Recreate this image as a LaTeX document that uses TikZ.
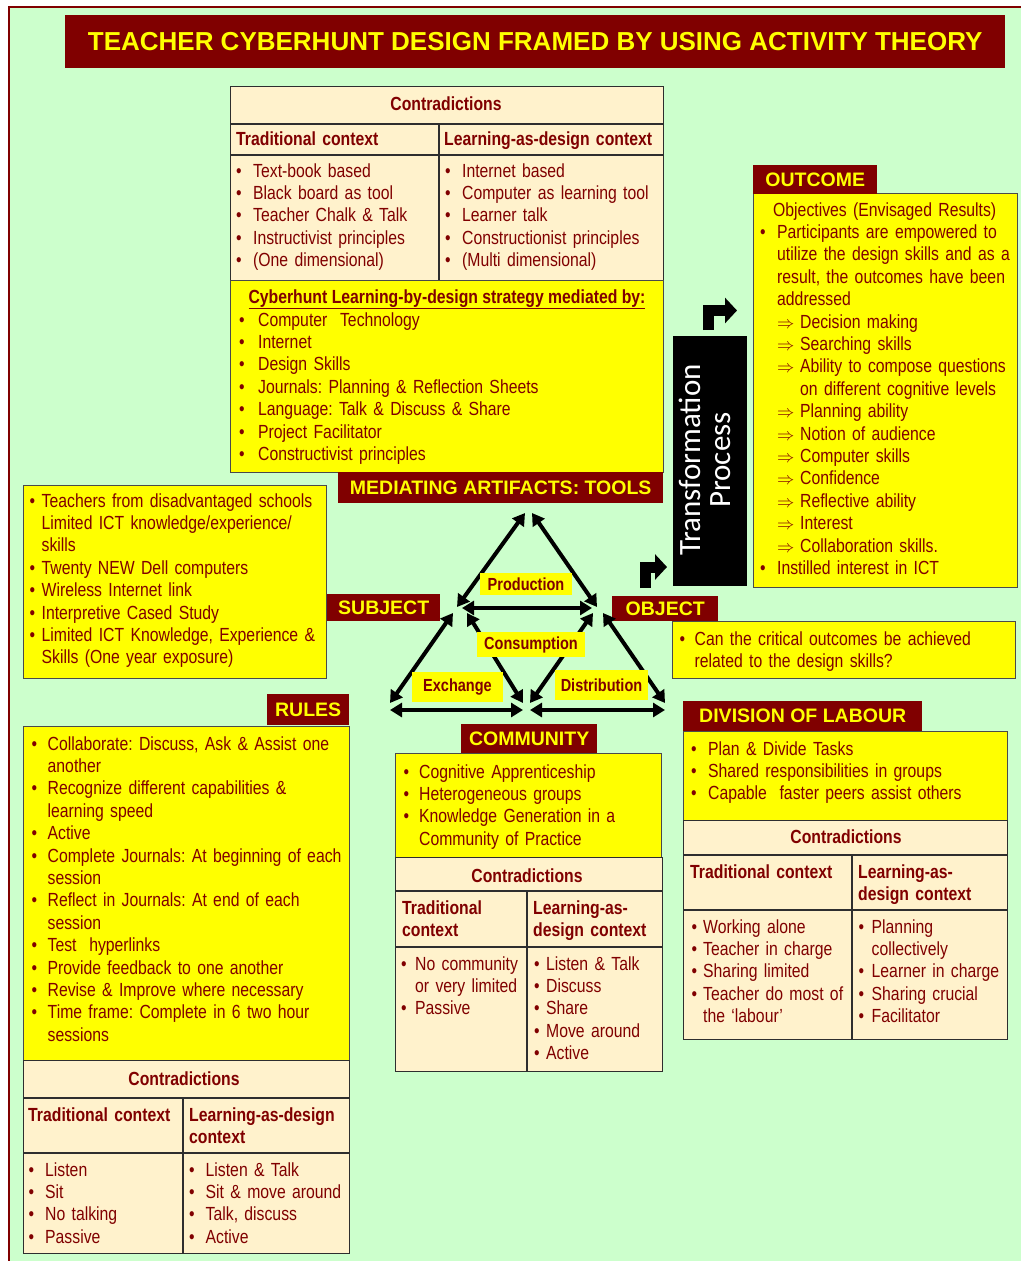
\documentclass[tikz,border=0pt]{standalone}
\usepackage{fontspec}
\setmainfont{Liberation Sans}
\newfontfamily\nar[FakeStretch=0.83]{Liberation Sans}
\newfontfamily\carl{Carlito}
\usetikzlibrary{arrows.meta}
\definecolor{bg}{HTML}{CCFFCC}
\definecolor{mar}{HTML}{800000}
\definecolor{yel}{HTML}{FFFF00}
\definecolor{crm}{HTML}{FFF2CC}
\definecolor{bdr}{HTML}{4A4A4A}
\definecolor{tbl}{HTML}{2E2E2E}
\frenchspacing
\newcommand\B[2]{\makebox[#1pt][l]{\textbullet}#2}
\newcommand\C[2]{\hspace*{#1pt}#2}
\newcommand\RR[2]{\hspace*{#1pt}\makebox[23pt][l]{\fontsize{16}{16}\selectfont$\Rightarrow$}#2}
\begin{document}
\begin{tikzpicture}[x=1pt,y=-1pt,
  txt/.style={anchor=base west, inner sep=0pt, text width=330pt, align=left, text=mar, font=\nar\fontsize{19}{22.4}\selectfont},
  hd/.style={anchor=base, inner sep=0pt, text=mar, font=\nar\bfseries\fontsize{19}{22.4}\selectfont},
  hdl/.style={txt, font=\nar\bfseries\fontsize{19}{22.4}\selectfont},
  lab/.style={fill=mar, text=yel, inner sep=0pt, anchor=north west, font=\bfseries\fontsize{19.5}{20}\selectfont},
  ybox/.style={fill=yel, draw=bdr, line width=0.9pt, inner sep=0pt, anchor=north west},
  cbox/.style={fill=crm, draw=tbl, line width=1.3pt, inner sep=0pt, anchor=north west},
  grid/.style={draw=tbl, line width=1.3pt},
  tri/.style={line width=4pt, {Triangle[length=12pt,width=14pt]}-{Triangle[length=12pt,width=14pt]}},
  elbow/.style={line width=11pt, line join=miter, -{Triangle[length=12pt,width=25pt]}},
  tlab/.style={fill=yel, text=mar, inner sep=0pt, font=\nar\bfseries\fontsize{17.5}{18}\selectfont}
]
\useasboundingbox (0,0) rectangle (1021,1261);
\fill[white] (0,0) rectangle (1021,1261);
\fill[bg] (9,7) rectangle (1021,1261);
\draw[mar, line width=2.5pt] (9,1261) -- (9,7) -- (1021,7);

% title
\node[fill=mar, text=yel, inner sep=0pt, anchor=north west, minimum width=940pt, minimum height=53pt,
  font=\bfseries\fontsize{26}{26}\selectfont] (title) at (65,15) {TEACHER CYBERHUNT DESIGN FRAMED BY USING ACTIVITY THEORY};

% top contradictions table
\node[cbox, minimum width=433pt, minimum height=194pt] (tc) at (230,86) {};
\draw[grid] (230,124) -- (663,124) (230,155) -- (663,155) (439,124) -- (439,280);
\node[hd] (tch) at (446,110) {Contradictions};
\node[hdl] (tct) at (236,145) {Traditional context};
\node[hdl] (tcl) at (444,145) {Learning-as-design context};
\node[txt] (tcb1) at (236,177) {\B{17}{Text-book based}\\\B{17}{Black board as tool}\\\B{17}{Teacher Chalk \& Talk}\\\B{17}{Instructivist principles}\\\B{17}{(One dimensional)}};
\node[txt] (tcb2) at (445,177) {\B{17}{Internet based}\\\B{17}{Computer as learning tool}\\\B{17}{Learner talk}\\\B{17}{Constructionist principles}\\\B{17}{(Multi dimensional)}};

% cyberhunt tools box
\node[ybox, minimum width=433pt, minimum height=192pt] (cy) at (230,280) {};
\node[hd] (cyh) at (447,303) {\underline{Cyberhunt Learning-by-design strategy mediated by:}};
\node[txt] (cyb) at (239,326) {\B{19}{Computer\ \ Technology}\\\B{19}{Internet}\\\B{19}{Design Skills}\\\B{19}{Journals: Planning \& Reflection Sheets}\\\B{19}{Language: Talk \& Discuss \& Share}\\\B{19}{Project Facilitator}\\\B{19}{Constructivist principles}};
\node[lab, minimum width=325pt, minimum height=31pt] (med) at (338,472) {MEDIATING ARTIFACTS: TOOLS};

% outcome
\node[ybox, minimum width=264pt, minimum height=394pt] (outbox) at (753,193) {};
\node[lab, minimum width=124pt, minimum height=29pt] (outlab) at (753,165) {OUTCOME};
\node[txt] (outtxt) at (760,216) {\C{13}{Objectives (Envisaged Results)}\\
\B{17}{Participants are empowered to}\\
\C{17}{utilize the design skills and as a}\\
\C{17}{result, the outcomes have been}\\
\C{17}{addressed}\\
\RR{17}{Decision making}\\
\RR{17}{Searching skills}\\
\RR{17}{\makebox[211pt][s]{Ability to compose questions}}\\
\C{40}{on different cognitive levels}\\
\RR{17}{Planning ability}\\
\RR{17}{Notion of audience}\\
\RR{17}{Computer skills}\\
\RR{17}{Confidence}\\
\RR{17}{Reflective ability}\\
\RR{17}{Interest}\\
\RR{17}{Collaboration skills.}\\
\B{17}{Instilled interest in ICT}};

% transformation process
\node[fill=black, inner sep=0pt, anchor=north west, minimum width=74pt, minimum height=250pt] (tpbox) at (673,336) {};
\node[rotate=90, text=white, align=center, inner sep=0pt, font=\carl\fontsize{31}{30}\selectfont] (tptxt) at (705,460) {Transformation\\Process};
\coordinate (e1s) at (708.5,330);
\coordinate (e1t) at (737,310.5);
\draw[elbow] (e1s) |- (e1t);
\coordinate (e2s) at (645,588);
\coordinate (e2t) at (667,567);
\draw[elbow] (e2s) |- (e2t);

% subject
\node[ybox, minimum width=303pt, minimum height=193pt] (subbox) at (23,485) {};
\node[txt] (subtxt) at (29.5,507) {\B{12}{Teachers from disadvantaged schools}\\\C{12}{Limited ICT knowledge/experience/}\\\C{12}{skills}\\\B{12}{Twenty NEW Dell computers}\\\B{12}{Wireless Internet link}\\\B{12}{Interpretive Cased Study}\\\B{12}{Limited ICT Knowledge, Experience \&}\\\C{12}{Skills (One year exposure)}};
\node[lab, minimum width=113pt, minimum height=27pt] (sublab) at (327,594) {SUBJECT};

% object
\node[ybox, minimum width=343pt, minimum height=57pt] (objbox) at (672,621) {};
\node[lab, minimum width=106pt, minimum height=25pt] (objlab) at (612,596) {OBJECT};
\node[txt] (objtxt) at (679.5,645) {\B{15}{Can the critical outcomes be achieved}\\\C{15}{related to the design skills?}};

% rules
\node[lab, minimum width=82pt, minimum height=31pt] (rullab) at (267,694) {RULES};
\node[ybox, minimum width=326pt, minimum height=334pt] (rulbox) at (23,726) {};
\node[txt] (rultxt) at (31.5,750) {\B{16}{Collaborate: Discuss, Ask \& Assist one}\\\C{16}{another}\\\B{16}{Recognize different capabilities \&}\\\C{16}{learning speed}\\\B{16}{Active}\\\B{16}{Complete Journals: At beginning of each}\\\C{16}{session}\\\B{16}{Reflect in Journals: At end of each}\\\C{16}{session}\\\B{16}{Test\ \ hyperlinks}\\\B{16}{Provide feedback to one another}\\\B{16}{Revise \& Improve where necessary}\\\B{16}{Time frame: Complete in 6 two hour}\\\C{16}{sessions}};
\node[cbox, minimum width=326pt, minimum height=193pt] (rultab) at (23,1060) {};
\draw[grid] (23,1098) -- (349,1098) (23,1153) -- (349,1153) (183,1098) -- (183,1253);
\node[hd] (rulh) at (184,1085) {Contradictions};
\node[hdl] (rult) at (28,1121) {Traditional context};
\node[hdl] (rull) at (189,1121) {Learning-as-design\\context};
\node[txt] (rulb1) at (28.5,1176) {\B{16.5}{Listen}\\\B{16.5}{Sit}\\\B{16.5}{No talking}\\\B{16.5}{Passive}};
\node[txt] (rulb2) at (189,1176) {\B{16.5}{Listen \& Talk}\\\B{16.5}{Sit \& move around}\\\B{16.5}{Talk, discuss}\\\B{16.5}{Active}};

% community
\node[lab, minimum width=136pt, minimum height=29pt] (comlab) at (461,724) {COMMUNITY};
\node[ybox, minimum width=266pt, minimum height=104pt] (combox) at (395,753) {};
\node[txt] (comtxt) at (403.5,778) {\B{15.5}{Cognitive Apprenticeship}\\\B{15.5}{Heterogeneous groups}\\\B{15.5}{Knowledge Generation in a}\\\C{15.5}{Community of Practice}};
\node[cbox, minimum width=267pt, minimum height=214pt] (comtab) at (395,857) {};
\draw[grid] (395,891) -- (662,891) (395,947) -- (662,947) (527,891) -- (527,1071);
\node[hd] (comh) at (527,882) {Contradictions};
\node[hdl] (comt) at (402,914) {Traditional\\context};
\node[hdl] (coml) at (533,914) {Learning-as-\\design context};
\node[txt] (comb1) at (401,970) {\B{14}{No community}\\\C{14}{or very limited}\\\B{14}{Passive}};
\node[txt] (comb2) at (534,970) {\B{12}{Listen \& Talk}\\\B{12}{Discuss}\\\B{12}{Share}\\\B{12}{Move around}\\\B{12}{Active}};

% division of labour
\node[ybox, minimum width=324pt, minimum height=89pt] (divbox) at (683,731) {};
\node[lab, minimum width=239pt, minimum height=30pt] (divlab) at (683,701) {DIVISION OF LABOUR};
\node[txt] (divtxt) at (691,755) {\B{17}{Plan \& Divide Tasks}\\\B{17}{Shared responsibilities in groups}\\\B{17}{Capable\ \ faster peers assist others}};
\node[cbox, minimum width=324pt, minimum height=219pt] (divtab) at (683,820) {};
\draw[grid] (683,855) -- (1007,855) (683,910) -- (1007,910) (852,855) -- (852,1039);
\node[hd] (divh) at (846,843) {Contradictions};
\node[hdl] (divt) at (690,878) {Traditional context};
\node[hdl] (divl) at (858,878) {Learning-as-\\design context};
\node[txt] (divb1) at (691.5,933) {\B{11.5}{Working alone}\\\B{11.5}{Teacher in charge}\\\B{11.5}{Sharing limited}\\\B{11.5}{Teacher do most of}\\\C{11.5}{the ‘labour’}};
\node[txt] (divb2) at (858.5,933) {\B{13}{Planning}\\\C{13}{collectively}\\\B{13}{Learner in charge}\\\B{13}{Sharing crucial}\\\B{13}{Facilitator}};

% activity triangle
\coordinate (tA1) at (525,513);
\coordinate (tS1) at (457,607);
\coordinate (tA2) at (532,513);
\coordinate (tO1) at (597,607);
\coordinate (tS2) at (462,608);
\coordinate (tO2) at (592,608);
\coordinate (tS3) at (453,613);
\coordinate (tL1) at (390,703);
\coordinate (tS4) at (467,613);
\coordinate (tM1) at (523,703);
\coordinate (tO3) at (593,613);
\coordinate (tM2) at (530,703);
\coordinate (tO4) at (603,613);
\coordinate (tR1) at (665,703);
\coordinate (tL2) at (390,710);
\coordinate (tM3) at (523,710);
\coordinate (tM4) at (530,710);
\coordinate (tR2) at (665,710);
\draw[tri] (tA1) -- (tS1);
\draw[tri] (tA2) -- (tO1);
\draw[tri] (tS2) -- (tO2);
\draw[tri] (tS3) -- (tL1);
\draw[tri] (tS4) -- (tM1);
\draw[tri] (tO3) -- (tM2);
\draw[tri] (tO4) -- (tR1);
\draw[tri] (tL2) -- (tM3);
\draw[tri] (tM4) -- (tR2);
\node[tlab, minimum width=92pt, minimum height=22pt] (prod) at (526,584) {Production};
\node[tlab, minimum width=108pt, minimum height=25pt] (cons) at (531,644.5) {Consumption};
\node[tlab, minimum width=91pt, minimum height=30pt] (exch) at (457.5,687) {Exchange};
\node[tlab, minimum width=93pt, minimum height=30pt] (dist) at (601.5,685) {Distribution};
\end{tikzpicture}
\end{document}
